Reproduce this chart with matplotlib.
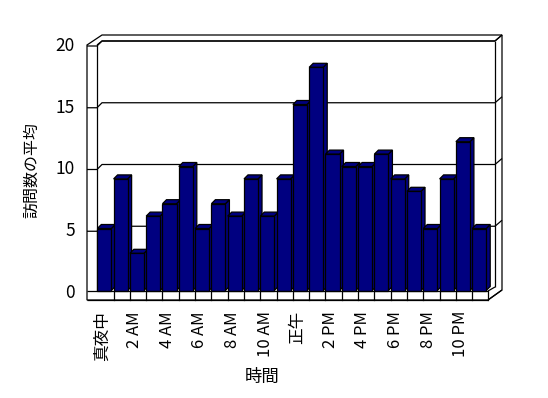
import matplotlib
matplotlib.use('Agg')
import matplotlib.pyplot as plt
from matplotlib.patches import Polygon

plt.rcParams['font.family'] = ['Noto Sans CJK JP', 'DejaVu Sans']

# average visits per hour
hours = list(range(24))
visits = [5, 9, 3, 6, 7, 10, 5, 7, 6, 9, 6, 9,
          15, 18, 11, 10, 10, 11, 9, 8, 5, 9, 12, 5]
tick_labels = ['真夜中', '2 AM', '4 AM', '6 AM', '8 AM', '10 AM',
               '正午', '2 PM', '4 PM', '6 PM', '8 PM', '10 PM']
y_ticks = [0, 5, 10, 15, 20]

# pixel <-> data mapping (slot index on x, value on y)
SX, X0 = 16.3, 97.3
SY, Y0 = 12.4, 290.5
def px(x):
    return (x - X0) / SX
def py(y):
    return (Y0 - y) / SY

fig = plt.figure(figsize=(5.48, 3.98), dpi=100)
ax = fig.add_axes([0, 0, 1, 1])
ax.set_xlim(px(0), px(548))
ax.set_ylim(py(398), py(0))
ax.axis('off')

lw = 0.9
def line(xs, ys, z=2):
    ax.plot([px(x) for x in xs], [py(y) for y in ys], color='black', lw=lw,
            solid_capstyle='butt', zorder=z)

def poly(pts, fc, z):
    ax.add_patch(Polygon([(px(x), py(y)) for x, y in pts], closed=True,
                         facecolor=fc, edgecolor='black', lw=lw, zorder=z))

# back wall position of a value (pixels)
def back_y(v):
    return 288 - 12.35 * v
def left_y(v):
    return back_y(v) + 5

# walls frame
poly([(87, 300), (87, 45), (102, 35), (502, 35), (502, 290), (488, 300)], 'white', 1)
line([97, 97], [45, 291])
line([97, 102, 495], [45, 41, 41])
line([495, 495], [41, 287])
line([495, 502], [41, 35])
for v in y_ticks[1:]:
    line([87, 97, 102, 495], [left_y(v), left_y(v), back_y(v), back_y(v)])
    line([495, 502], [back_y(v), back_y(v) - 6])

# floor
line([87, 488], [291, 291], z=50)
line([87, 488], [300, 300], z=50)
line([488, 502], [300, 290], z=50)
line([488, 495], [291, 287], z=50)
for k in range(1, 25):
    ax.plot([k, k], [py(291), py(300)], color='black', lw=lw, zorder=50)

# bars with 3D faces
navy = '#000080'
w = 0.86
ddx, ddy = 4 / SX, 4 / SY
bars = ax.bar(hours, visits, width=w, align='edge', color=navy,
              edgecolor='black', lw=lw)
for i, (b, v) in enumerate(zip(bars, visits)):
    b.set_zorder(10 + 2 * i + 1)
    x0, x1 = i, i + w
    ax.add_patch(Polygon([(x1, 0), (x1, v), (x1 + ddx, v + ddy), (x1 + ddx, ddy)],
                         facecolor=navy, edgecolor='black', lw=lw, zorder=10 + 2 * i))
    ax.add_patch(Polygon([(x0, v), (x0 + ddx, v + ddy), (x1 + ddx, v + ddy), (x1, v)],
                         facecolor=navy, edgecolor='black', lw=lw, zorder=10 + 2 * i))

# y tick labels
for v in y_ticks:
    ax.text(px(75), py(left_y(v)), str(v), ha='right', va='center', fontsize=12.5)

# x tick labels every two hours
for k, lab in enumerate(tick_labels):
    ax.text(2 * k + 0.3, py(311), lab, rotation=90, ha='center', va='top', fontsize=12)

ax.text(px(32), py(170), '訪問数の平均', rotation=90, ha='center', va='center', fontsize=11.5)
ax.text(px(262), py(377), '時間', ha='center', va='center', fontsize=12.5)

fig.savefig('out.png', dpi=100)
